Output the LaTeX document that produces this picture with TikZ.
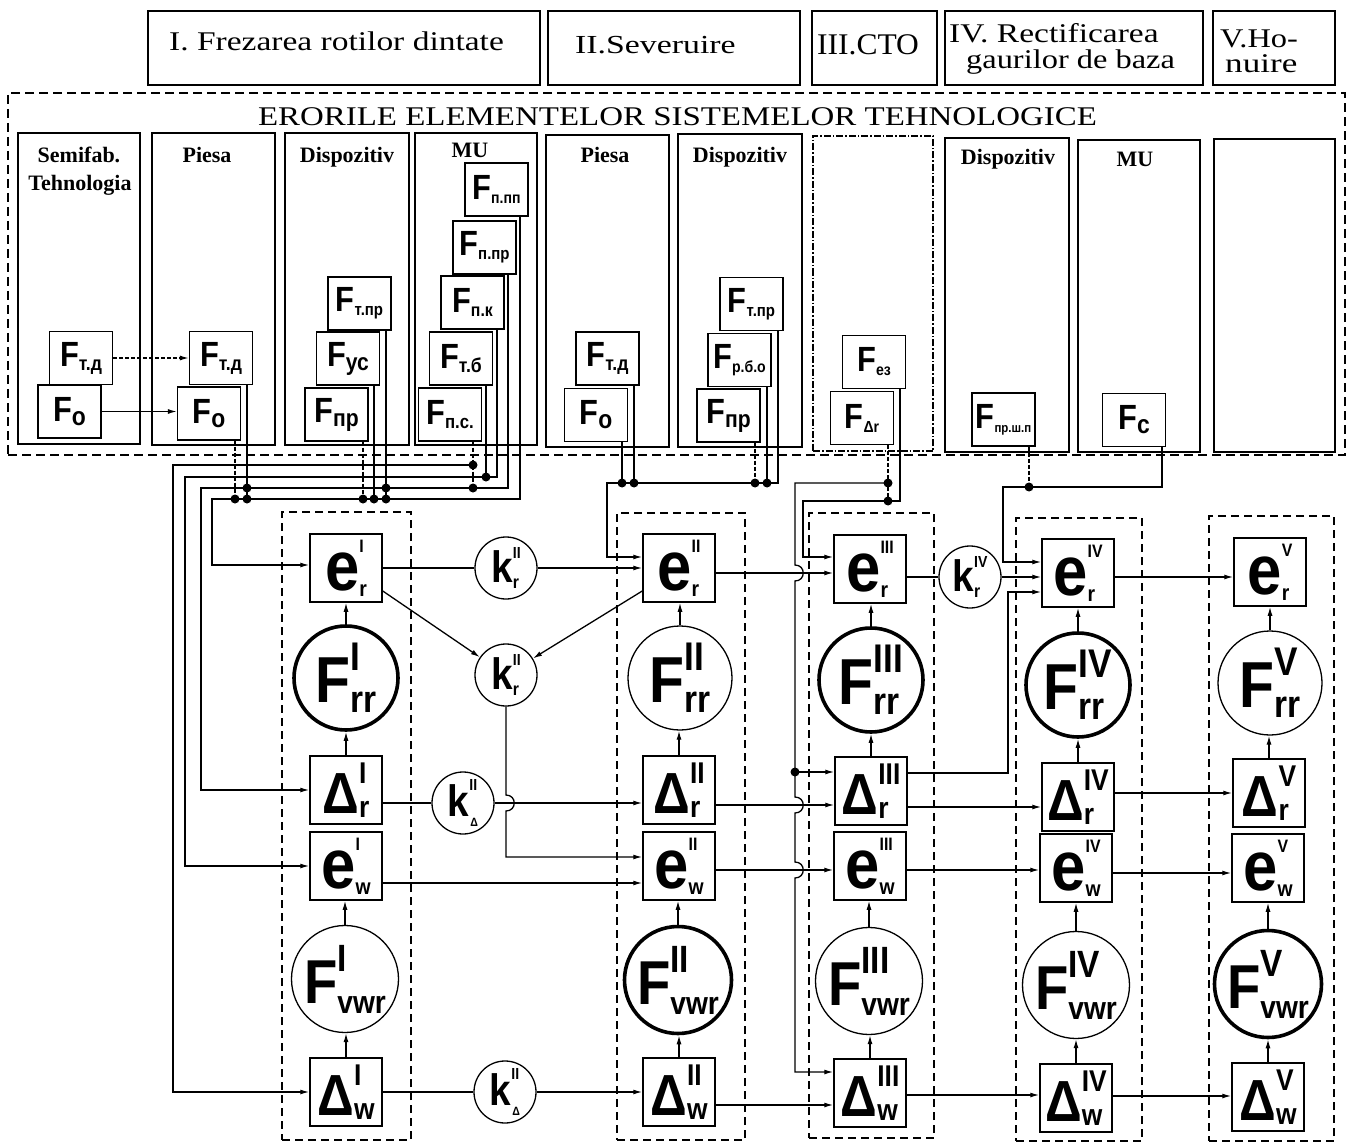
\documentclass[tikz,border=0pt]{standalone}
\usepackage{fontspec}
\usepackage{graphicx}
\setmainfont{Liberation Serif}
\newfontfamily\sansn[FakeStretch=0.88]{Liberation Sans}
\usetikzlibrary{arrows.meta}
% main letter with stacked superscript / subscript
\newcommand\SU[8]{{\fontsize{#4}{#4}\selectfont #1}%
 \setbox0=\hbox{\raise#7pt\hbox{\fontsize{#5}{#5}\selectfont #2}}%
 \setbox2=\hbox{\lower#8pt\hbox{\fontsize{#6}{#6}\selectfont #3}}%
 \ifdim\wd0>\wd2 \rlap{\box2}\box0 \else\rlap{\box0}\box2 \fi}
\newcommand\eL[2]{\SU{e}{#1}{#2}{70}{18}{22}{38}{6}}
\newcommand\dL[2]{\SU{Δ}{#1}{#2}{58}{30}{30}{30}{4}}
\newcommand\rL[1]{\SU{F}{#1}{rr}{65}{40}{38}{32}{10}}
\newcommand\vL[1]{\SU{F}{#1}{vwr}{62}{38}{32}{32}{10}}
\newcommand\kL[3][18]{\SU{k}{#2}{#3}{44}{16}{#1}{24}{6}}
\newcommand\kD[1]{\SU{k}{#1}{\kern1pt Δ}{44}{16}{12}{26}{10}}
\newcommand\fL[2][20]{\SU{F}{}{#2}{35}{10}{#1}{0}{4}}
\newcommand\TT[3]{{\fontsize{#1}{#1}\selectfont\scalebox{#2}[1]{#3}}}
\tikzset{
 topbox/.style={draw, line width=2.2pt, inner sep=0pt},
 outerbox/.style={draw, line width=1.5pt, dash pattern=on 9pt off 5pt, inner sep=0pt},
 colbox/.style={draw, line width=1.6pt, inner sep=0pt},
 colboxdd/.style={draw, line width=1.4pt, dash pattern=on 7pt off 2pt on 1.5pt off 2pt, inner sep=0pt},
 stagebox/.style={draw, line width=1.5pt, dash pattern=on 8pt off 5pt, inner sep=0pt},
 fbox/.style={draw, line width=1.3pt, fill=white, minimum width=63pt, minimum height=53pt, inner sep=0pt, font=\sansn\bfseries},
 ebox/.style={draw, line width=1.5pt, fill=white, minimum width=72pt, minimum height=68pt, inner sep=0pt, font=\sansn\bfseries},
 fcirc/.style={draw, circle, line width=1.3pt, fill=white, minimum size=104pt, inner sep=0pt, font=\sansn\bfseries},
 fcircB/.style={fcirc, line width=3.6pt},
 vcirc/.style={fcirc, minimum size=107pt},
 vcircB/.style={vcirc, line width=3.6pt},
 kcirc/.style={draw, circle, line width=1.3pt, fill=white, minimum size=62pt, inner sep=0pt, font=\sansn\bfseries},
 wire/.style={line width=1.3pt},
 dwire/.style={line width=1.3pt, dash pattern=on 4pt off 2pt},
 arr/.style={-{Latex[length=9pt,width=5pt]}},
 dot/.style={circle, fill, inner sep=0pt, minimum size=9pt},
 hdr/.style={font=\bfseries\fontsize{22}{22}\selectfont, anchor=base, inner sep=0pt},
 ttl/.style={anchor=base west, inner sep=0pt},
}
\begin{document}
\begin{tikzpicture}[x=1pt,y=-1pt]
\useasboundingbox (0,0) rectangle (1355,1142);
% ---------- top stage boxes
\node[topbox, minimum width=392pt, minimum height=74pt] (t1) at (344,48) {};
\node[topbox, minimum width=252pt, minimum height=74pt] (t2) at (674,48) {};
\node[topbox, minimum width=125pt, minimum height=74pt] (t3) at (874.5,48) {};
\node[topbox, minimum width=258pt, minimum height=74pt] (t4) at (1074,48) {};
\node[topbox, minimum width=122pt, minimum height=74pt] (t5) at (1274,48) {};
\node[ttl] (t1a) at (169,51) {\TT{27}{1.24}{I. Frezarea rotilor dintate}};
\node[ttl] (t2a) at (575,54) {\TT{26}{1.3}{II.Severuire}};
\node[ttl] (t3a) at (817,55) {\TT{30}{1.05}{III.CTO}};
\node[ttl] (t4a) at (949,43) {\TT{27}{1.24}{IV. Rectificarea}};
\node[ttl] (t4b) at (966,69) {\TT{27}{1.2}{gaurilor de baza}};
\node[ttl] (t5a) at (1220,48) {\TT{27}{1.2}{V.Ho-}};
\node[ttl] (t5b) at (1225,73) {\TT{27}{1.3}{nuire}};
% ---------- outer dashed box
\node[outerbox, minimum width=1337pt, minimum height=362pt] (outer) at (676.5,274) {};
\node[anchor=base, inner sep=0pt] (title) at (677.5,126) {\TT{27}{1.22}{ERORILE ELEMENTELOR SISTEMELOR TEHNOLOGICE}};
% ---------- element columns
\node[colbox, minimum width=122pt, minimum height=311pt] (c1) at (79,288.5) {};
\node[colbox, minimum width=123pt, minimum height=312pt] (c2) at (213.5,289) {};
\node[colbox, minimum width=124pt, minimum height=312pt] (c3) at (347,289) {};
\node[colbox, minimum width=122pt, minimum height=312pt] (c4) at (476,289) {};
\node[colbox, minimum width=123pt, minimum height=312pt] (c5) at (607.5,291) {};
\node[colbox, minimum width=124pt, minimum height=313pt] (c6) at (740,290.5) {};
\node[colboxdd, minimum width=120pt, minimum height=315pt] (c7) at (873,293.5) {};
\node[colbox, minimum width=124pt, minimum height=314pt] (c8) at (1007,295) {};
\node[colbox, minimum width=122pt, minimum height=312pt] (c9) at (1139,296) {};
\node[colbox, minimum width=121pt, minimum height=313pt] (c10) at (1274.5,295.5) {};
\node[hdr] (h1a) at (79,163) {Semifab.};
\node[hdr] (h1b) at (80,191) {Tehnologia};
\node[hdr] (h2) at (207,163) {Piesa};
\node[hdr] (h3) at (347,163) {Dispozitiv};
\node[hdr] (h4) at (470,158) {MU};
\node[hdr] (h5) at (605,163) {Piesa};
\node[hdr] (h6) at (740,163) {Dispozitiv};
\node[hdr] (h8) at (1008,165) {Dispozitiv};
\node[hdr] (h9) at (1135,167) {MU};
% ---------- F boxes
\node[fbox] (sTD) at (81,358) {\fL{т.д}};
\node[fbox] (sO) at (69.5,411.5) {\fL[26]{о}};
\node[fbox] (pTD) at (221,358) {\fL{т.д}};
\node[fbox] (pO) at (209,413.5) {\fL[26]{о}};
\node[fbox] (dTPR) at (359.5,303.5) {\fL[17]{т.пр}};
\node[fbox] (dUS) at (348,358.5) {\fL[24]{ус}};
\node[fbox] (dPR) at (336.5,414.5) {\fL[24]{пр}};
\node[fbox] (mPPP) at (496.5,189.5) {\fL[16]{п.пп}};
\node[fbox] (mPPR) at (484.5,247.5) {\fL[17]{п.пр}};
\node[fbox] (mPK) at (472.5,302.5) {\fL[18]{п.к}};
\node[fbox] (mTB) at (461,358.5) {\fL[20]{т.б}};
\node[fbox] (mPS) at (450,414.5) {\fL[19]{п.с.}};
\node[fbox] (qTD) at (607.5,358.5) {\fL{т.д}};
\node[fbox] (qO) at (596,415) {\fL[26]{о}};
\node[fbox] (rTPR) at (751.5,304) {\fL[17]{т.пр}};
\node[fbox] (rRBO) at (739.5,360) {\fL[16]{р.б.о}};
\node[fbox] (rPR) at (728.5,415.5) {\fL[24]{пр}};
\node[fbox] (vEZ) at (874,362) {\fL[16]{ез}};
\node[fbox] (vDR) at (862,418) {\fL[16]{Δr}};
\node[fbox] (wPSP) at (1003.5,419.5) {\fL[13]{пр.ш.п}};
\node[fbox] (wC) at (1134,420) {\fL[26]{c}};
% ---------- stage dashed boxes
\node[stagebox, minimum width=129pt, minimum height=628pt] (sI) at (346.5,826) {};
\node[stagebox, minimum width=128pt, minimum height=627pt] (sII) at (681,826.5) {};
\node[stagebox, minimum width=125pt, minimum height=625pt] (sIII) at (871.5,825.5) {};
\node[stagebox, minimum width=126pt, minimum height=623pt] (sIV) at (1079,829.5) {};
\node[stagebox, minimum width=125pt, minimum height=625pt] (sV) at (1271.5,828.5) {};
% ---------- stage I
\node[ebox] (erI) at (346,568) {\eL{I}{r}};
\node[fcircB] (FrI) at (346,678) {\rL{I}};
\node[ebox] (drI) at (346,790) {\dL{I}{r}};
\node[ebox] (ewI) at (346,866) {\eL{I}{w}};
\node[vcirc] (FvI) at (345,979) {\vL{I}};
\node[ebox] (dwI) at (346,1092) {\dL{I}{w}};
% ---------- stage II
\node[ebox] (erII) at (679,568) {\eL{II}{r}};
\node[fcirc] (FrII) at (680,678) {\rL{II}};
\node[ebox] (drII) at (679,790) {\dL{II}{r}};
\node[ebox] (ewII) at (679,866) {\eL{II}{w}};
\node[vcircB] (FvII) at (678,980) {\vL{II}};
\node[ebox] (dwII) at (679,1092) {\dL{II}{w}};
% ---------- stage III
\node[ebox] (erIII) at (870,569) {\eL{III}{r}};
\node[fcircB] (FrIII) at (871,680) {\rL{III}};
\node[ebox] (drIII) at (871,791) {\dL{III}{r}};
\node[ebox] (ewIII) at (870,866) {\eL{III}{w}};
\node[vcirc] (FvIII) at (869,981) {\vL{III}};
\node[ebox] (dwIII) at (870,1093) {\dL{III}{w}};
% ---------- stage IV
\node[ebox] (erIV) at (1078,573) {\eL{IV}{r}};
\node[fcircB] (FrIV) at (1078,685) {\rL{IV}};
\node[ebox] (drIV) at (1078,797) {\dL{IV}{r}};
\node[ebox] (ewIV) at (1076,868) {\eL{IV}{w}};
\node[vcirc] (FvIV) at (1076,985) {\vL{IV}};
\node[ebox] (dwIV) at (1076,1098) {\dL{IV}{w}};
% ---------- stage V
\node[ebox] (erV) at (1270,572) {\eL{V}{r}};
\node[fcirc] (FrV) at (1270,683) {\rL{V}};
\node[ebox] (drV) at (1269,793) {\dL{V}{r}};
\node[ebox] (ewV) at (1268,868) {\eL{V}{w}};
\node[vcircB] (FvV) at (1268,984) {\vL{V}};
\node[ebox] (dwV) at (1268,1097) {\dL{V}{w}};
% ---------- coupling circles
\node[kcirc] (krA) at (506,568) {\kL{II}{r}};
\node[kcirc] (krB) at (506,675) {\kL{II}{r}};
\node[kcirc] (kdA) at (463,803) {\kD{II}};
\node[kcirc] (kdB) at (505,1092) {\kD{II}};
\node[kcirc] (krIV) at (970,577) {\kL{IV}{r}};
% ---------- internal vertical arrows
\foreach \c in {I,II,III,IV,V} {
 \draw[wire,arr] (Fr\c.north) -- (Fr\c.north |- er\c.south);
 \draw[wire,arr] (dr\c.north) -- (dr\c.north |- Fr\c.south);
 \draw[wire,arr] (Fv\c.north) -- (Fv\c.north |- ew\c.south);
 \draw[wire,arr] (dw\c.north) -- (dw\c.north |- Fv\c.south);
}
% ---------- stage I -> II
\draw[wire] (erI.east) -- (krA.west);
\draw[wire,arr] (krA.east) -- (erII.west);
\draw[wire,arr] ([yshift=-23pt]erI.east) -- (krB);
\draw[wire,arr] ([yshift=-23pt]erII.west) -- (krB);
\draw[wire,arr] (krB.south) -- (506,795) .. controls (517,795) and (517,811) .. (506,811) -- (506,857) -- ([yshift=9pt]ewII.west);
\draw[wire] ([yshift=-13pt]drI.east) -- (kdA.west);
\draw[wire,arr] (kdA.east) -- ([yshift=-13pt]drII.west);
\draw[wire,arr] ([yshift=-17pt]ewI.east) -- ([yshift=-17pt]ewII.west);
\draw[wire] (dwI.east) -- (kdB.west);
\draw[wire,arr] (kdB.east) -- (dwII.west);
% ---------- stage II -> III
\draw[wire,arr] ([yshift=-5pt]erII.east) -- ([yshift=-4pt]erIII.west);
\draw[wire,arr] ([yshift=-15pt]drII.east) -- ([yshift=-14pt]drIII.west);
\draw[wire,arr] ([yshift=-4pt]ewII.east) -- ([yshift=-4pt]ewIII.west);
\draw[wire,arr] ([yshift=-13pt]dwII.east) -- ([yshift=-12pt]dwIII.west);
% ---------- stage III -> IV
\draw[wire] ([yshift=-8pt]erIII.east) -- (krIV.west);
\draw[wire,arr] (krIV.east) -- ([yshift=-4pt]erIV.west);
\draw[wire,arr] ([yshift=-16pt]drIII.east) -- ([yshift=-10pt]drIV.west);
\draw[wire,arr] ([yshift=-4pt]ewIII.east) -- ([yshift=-2pt]ewIV.west);
\draw[wire,arr] ([yshift=-2pt]dwIII.east) -- ([yshift=3pt]dwIV.west);
\draw[wire,arr] ([yshift=18pt]drIII.east) -- (1008,773) -- (1008,592) -- ([yshift=-19pt]erIV.west);
% ---------- stage IV -> V
\draw[wire,arr] ([yshift=-4pt]erIV.east) -- ([yshift=-5pt]erV.west);
\draw[wire,arr] ([yshift=4pt]drIV.east) -- (drV.west);
\draw[wire,arr] ([yshift=-5pt]ewIV.east) -- ([yshift=-5pt]ewV.west);
\draw[wire,arr] ([yshift=2pt]dwIV.east) -- ([yshift=1pt]dwV.west);
% ---------- element wiring, operation I
\draw[dwire,arr] (sTD.east) -- (pTD.west);
\draw[wire,arr] (sO.east) -- (sO.east -| pO.west);
\coordinate (jA) at (473,465);
\coordinate (jB) at (473,488);
\coordinate (jC) at (486,477);
\draw[wire,arr] ([xshift=23.5pt]mPPP.south) -- (520,499) -- (212,499) -- (212,565) -- ([yshift=3pt]erI.west);
\draw[wire,arr] ([xshift=23.5pt]mPPR.south) -- (508,488) -- (201,488) -- (201,790) -- (drI.west);
\draw[wire,arr] ([xshift=24.5pt]mPK.south) -- (497,477) -- (185,477) -- (185,866) -- (ewI.west);
\draw[dwire] ([xshift=23pt]mPS.south) -- (jB);
\draw[wire,arr] (jA) -- (173,465) -- (173,1092) -- (dwI.west);
\draw[wire] ([xshift=25pt]mTB.south) -- (jC);
\draw[dwire] ([xshift=26pt]pO.south) -- (235,499);
\draw[wire] ([xshift=26pt]pTD.south) -- (247,499);
\draw[dwire] ([xshift=26.5pt]dPR.south) -- (363,499);
\draw[wire] ([xshift=26pt]dUS.south) -- (374,499);
\draw[wire] ([xshift=26.5pt]dTPR.south) -- (386,499);
\foreach \p [count=\i] in {(473,465),(473,488),(486,477),(235,499),(247,488),(247,499),(363,499),(374,499),(386,488),(386,499)}
 \node[dot] (dA\i) at \p {};
% ---------- operation II
\draw[wire,arr] ([xshift=26.5pt]rTPR.south) -- (778,483) -- (607,483) -- (607,557) -- ([yshift=11pt]erII.west);
\draw[wire] ([xshift=26pt]qO.south) -- (622,483);
\draw[wire] ([xshift=26.5pt]qTD.south) -- (634,483);
\draw[dwire] ([xshift=26.5pt]rPR.south) -- (755,483);
\draw[wire] ([xshift=27.5pt]rRBO.south) -- (767,483);
\foreach \p [count=\i] in {(622,483),(634,483),(755,483),(767,483)}
 \node[dot] (dB\i) at \p {};
% ---------- operation III
\coordinate (jD) at (888,483);
\coordinate (jE) at (795,772);
\draw[dwire] ([xshift=26pt]vDR.south) -- (888,501);
\draw[wire,arr] (jD) -- (795,483) -- (795,565) .. controls (806,565) and (806,581) .. (795,581) -- (795,797) .. controls (806,797) and (806,813) .. (795,813) -- (795,862) .. controls (806,862) and (806,878) .. (795,878) -- (795,1072) -- ([yshift=21pt]dwIII.west);
\draw[wire,arr] (jE) -- ([yshift=19pt]drIII.west);
\draw[wire,arr] ([xshift=26pt]vEZ.south) -- (900,501) -- (803,501) -- (803,557) -- ([yshift=12pt]erIII.west);
\foreach \p [count=\i] in {(888,483),(888,501),(795,772)}
 \node[dot] (dC\i) at \p {};
% ---------- operation IV
\coordinate (jF) at (1029,487);
\draw[dwire] ([xshift=25.5pt]wPSP.south) -- (jF);
\draw[wire,arr] ([xshift=28pt]wC.south) -- (1162,487) -- (1003,487) -- (1003,562) -- ([yshift=11pt]erIV.west);
\node[dot] (dD1) at (jF) {};
\end{tikzpicture}
\end{document}
